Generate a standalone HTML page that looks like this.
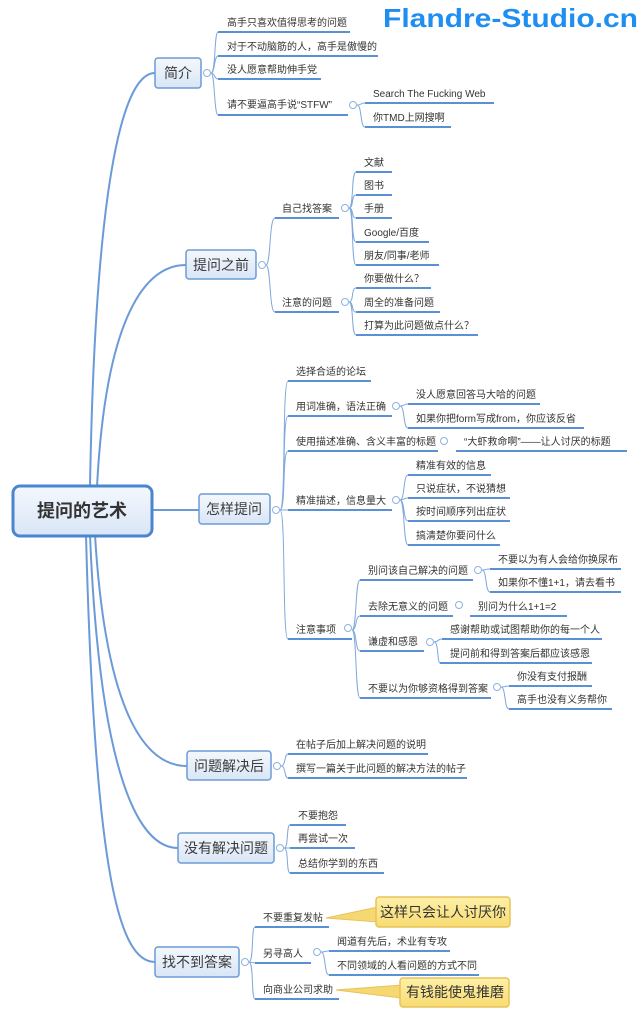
<!DOCTYPE html>
<html><head><meta charset="utf-8">
<style>
html,body{margin:0;padding:0;background:#fff;}
svg{display:block;}
text{font-family:"Liberation Sans","Noto Sans CJK SC",sans-serif;fill:#333;}
.l{font-size:10px;}
.b{font-size:14px;text-anchor:middle;fill:#3a3a3a;}
.u{stroke:#5b8fd6;stroke-width:2;fill:none;}
.c{stroke:#7fa8dc;stroke-width:1;fill:none;}
.t{stroke:#6b9ad8;stroke-width:2;fill:none;}
.box{fill:url(#g);stroke:#6c9bd6;stroke-width:1.5;}
.o{fill:#fff;stroke:#8fb2e0;stroke-width:1;}
</style></head><body>
<svg width="640" height="1020" viewBox="0 0 640 1020" xmlns="http://www.w3.org/2000/svg">
<defs>
<linearGradient id="g" x1="0" y1="0" x2="0" y2="1"><stop offset="0" stop-color="#f4f8fd"/><stop offset="1" stop-color="#d9e6f6"/></linearGradient>
<linearGradient id="y" x1="0" y1="0" x2="0" y2="1"><stop offset="0" stop-color="#fdf0a8"/><stop offset="1" stop-color="#f8dc72"/></linearGradient>
</defs>

<text x="383" y="27" style="font-size:26px;font-weight:bold;fill:#1e8ef0" textLength="255" lengthAdjust="spacingAndGlyphs">Flandre-Studio.cn</text>

<path class="t" d="M90 487 C95 200,120 73,155 73"/>
<path class="t" d="M97 487 C105 330,140 265,186 265"/>
<path class="t" d="M152 510 L199 510"/>
<path class="t" d="M95 535 C105 700,140 766,187 766"/>
<path class="t" d="M90 535 C100 780,140 848,178 848"/>
<path class="t" d="M86 535 C95 880,120 962,155 962"/>

<rect x="13" y="486" width="139" height="50" rx="7" fill="url(#g)" stroke="#4a86d0" stroke-width="3"/>
<text x="82" y="517" style="font-size:18px;font-weight:bold;text-anchor:middle;fill:#333">提问的艺术</text>

<rect class="box" x="155" y="58" width="46" height="30" rx="3"/><text class="b" x="178" y="78">简介</text>
<circle class="o" cx="207" cy="73" r="3.5"/>
<path class="c" d="M211 73 C216 73,214 32,218 32 M211 73 C215 73,214 56,218 56 M211 73 C215 73,214 79,218 79 M211 73 C215 73,214 115,218 115"/>
<line class="u" x1="218" y1="32" x2="350" y2="32"/><text class="l" x="227" y="26">高手只喜欢值得思考的问题</text>
<line class="u" x1="218" y1="56" x2="378" y2="56"/><text class="l" x="227" y="50">对于不动脑筋的人，高手是傲慢的</text>
<line class="u" x1="218" y1="79" x2="321" y2="79"/><text class="l" x="227" y="73">没人愿意帮助伸手党</text>
<line class="u" x1="218" y1="115" x2="348" y2="115"/><text class="l" x="227" y="108">请不要逼高手说“STFW”</text>
<circle class="o" cx="353" cy="105" r="3.5"/>
<path class="c" d="M357 105 C362 105,360 103,365 103 M357 105 C362 105,360 127,365 127"/>
<line class="u" x1="365" y1="103" x2="494" y2="103"/><text class="l" x="373" y="97">Search The Fucking Web</text>
<line class="u" x1="365" y1="127" x2="451" y2="127"/><text class="l" x="373" y="121">你TMD上网搜啊</text>

<rect class="box" x="186" y="250" width="70" height="29" rx="3"/><text class="b" x="221" y="270">提问之前</text>
<circle class="o" cx="262" cy="265" r="3.5"/>
<path class="c" d="M266 265 C271 265,269 218,275 218 M266 265 C271 265,269 312,275 312"/>
<line class="u" x1="275" y1="218" x2="339" y2="218"/><text class="l" x="282" y="212">自己找答案</text>
<circle class="o" cx="345" cy="208" r="3.5"/>
<path class="c" d="M349 208 C354 208,351 172,356 172 M349 208 C354 208,351 195,356 195 M349 208 C354 208,351 218,356 218 M349 208 C354 208,351 242,356 242 M349 208 C354 208,351 265,356 265"/>
<line class="u" x1="356" y1="172" x2="392" y2="172"/><text class="l" x="364" y="166">文献</text>
<line class="u" x1="356" y1="195" x2="392" y2="195"/><text class="l" x="364" y="189">图书</text>
<line class="u" x1="356" y1="218" x2="392" y2="218"/><text class="l" x="364" y="212">手册</text>
<line class="u" x1="356" y1="242" x2="429" y2="242"/><text class="l" x="364" y="236">Google/百度</text>
<line class="u" x1="356" y1="265" x2="439" y2="265"/><text class="l" x="364" y="259">朋友/同事/老师</text>
<line class="u" x1="275" y1="312" x2="339" y2="312"/><text class="l" x="282" y="306">注意的问题</text>
<circle class="o" cx="345" cy="302" r="3.5"/>
<path class="c" d="M349 302 C354 302,351 288,356 288 M349 302 C354 302,351 312,356 312 M349 302 C354 302,351 335,356 335"/>
<line class="u" x1="356" y1="288" x2="431" y2="288"/><text class="l" x="364" y="282">你要做什么？</text>
<line class="u" x1="356" y1="312" x2="440" y2="312"/><text class="l" x="364" y="306">周全的准备问题</text>
<line class="u" x1="356" y1="335" x2="478" y2="335"/><text class="l" x="364" y="329">打算为此问题做点什么？</text>

<rect class="box" x="199" y="494" width="71" height="30" rx="3"/><text class="b" x="234" y="514">怎样提问</text>
<circle class="o" cx="276" cy="510" r="3.5"/>
<path class="c" d="M280 510 C286 510,282 381,288 381 M280 510 C286 510,282 416,288 416 M280 510 C286 510,282 451,288 451 M280 510 L288 510 M280 510 C286 510,282 639,288 639"/>
<line class="u" x1="288" y1="381" x2="371" y2="381"/><text class="l" x="296" y="375">选择合适的论坛</text>
<line class="u" x1="288" y1="416" x2="392" y2="416"/><text class="l" x="296" y="410">用词准确，语法正确</text>
<circle class="o" cx="396" cy="406" r="3.5"/>
<path class="c" d="M400 406 C405 406,403 404,408 404 M400 406 C405 406,403 428,408 428"/>
<line class="u" x1="408" y1="404" x2="540" y2="404"/><text class="l" x="416" y="398">没人愿意回答马大哈的问题</text>
<line class="u" x1="408" y1="428" x2="584" y2="428"/><text class="l" x="416" y="422">如果你把form写成from，你应该反省</text>
<line class="u" x1="288" y1="451" x2="438" y2="451"/><text class="l" x="296" y="445">使用描述准确、含义丰富的标题</text>
<circle class="o" cx="444" cy="441" r="3.5"/>
<line class="u" x1="456" y1="451" x2="627" y2="451"/><text class="l" x="464" y="445">“大虾救命啊”——让人讨厌的标题</text>
<line class="u" x1="288" y1="510" x2="392" y2="510"/><text class="l" x="296" y="504">精准描述，信息量大</text>
<circle class="o" cx="396" cy="500" r="3.5"/>
<path class="c" d="M400 500 C405 500,403 475,408 475 M400 500 C405 500,403 498,408 498 M400 500 C405 500,403 521,408 521 M400 500 C405 500,403 545,408 545"/>
<line class="u" x1="408" y1="475" x2="491" y2="475"/><text class="l" x="416" y="469">精准有效的信息</text>
<line class="u" x1="408" y1="498" x2="510" y2="498"/><text class="l" x="416" y="492">只说症状，不说猜想</text>
<line class="u" x1="408" y1="521" x2="510" y2="521"/><text class="l" x="416" y="515">按时间顺序列出症状</text>
<line class="u" x1="408" y1="545" x2="500" y2="545"/><text class="l" x="416" y="539">搞清楚你要问什么</text>
<line class="u" x1="288" y1="639" x2="352" y2="639"/><text class="l" x="296" y="633">注意事项</text>
<circle class="o" cx="348" cy="628" r="3.5"/>
<path class="c" d="M352 630 C357 630,355 580,360 580 M352 630 C357 630,355 616,360 616 M352 630 C357 630,355 651,360 651 M352 630 C357 630,355 698,360 698"/>
<line class="u" x1="360" y1="580" x2="473" y2="580"/><text class="l" x="368" y="574">别问该自己解决的问题</text>
<circle class="o" cx="478" cy="570" r="3.5"/>
<path class="c" d="M482 570 C487 570,485 569,490 569 M482 570 C487 570,485 592,490 592"/>
<line class="u" x1="490" y1="569" x2="621" y2="569"/><text class="l" x="498" y="563">不要以为有人会给你换尿布</text>
<line class="u" x1="490" y1="592" x2="621" y2="592"/><text class="l" x="498" y="586">如果你不懂1+1，请去看书</text>
<line class="u" x1="360" y1="616" x2="453" y2="616"/><text class="l" x="368" y="610">去除无意义的问题</text>
<circle class="o" cx="459" cy="605" r="3.5"/>
<line class="u" x1="470" y1="616" x2="567" y2="616"/><text class="l" x="478" y="610">别问为什么1+1=2</text>
<line class="u" x1="360" y1="651" x2="424" y2="651"/><text class="l" x="368" y="645">谦虚和感恩</text>
<circle class="o" cx="430" cy="642" r="3.5"/>
<path class="c" d="M434 642 C439 642,437 639,442 639 M434 642 C439 642,437 663,440 663"/>
<line class="u" x1="442" y1="639" x2="602" y2="639"/><text class="l" x="450" y="633">感谢帮助或试图帮助你的每一个人</text>
<line class="u" x1="440" y1="663" x2="592" y2="663"/><text class="l" x="450" y="657">提问前和得到答案后都应该感恩</text>
<line class="u" x1="360" y1="698" x2="491" y2="698"/><text class="l" x="368" y="692">不要以为你够资格得到答案</text>
<circle class="o" cx="497" cy="687" r="3.5"/>
<path class="c" d="M501 687 C506 687,504 686,509 686 M501 687 C506 687,504 709,509 709"/>
<line class="u" x1="509" y1="686" x2="592" y2="686"/><text class="l" x="517" y="680">你没有支付报酬</text>
<line class="u" x1="509" y1="709" x2="612" y2="709"/><text class="l" x="517" y="703">高手也没有义务帮你</text>

<rect class="box" x="187" y="751" width="84" height="29" rx="3"/><text class="b" x="229" y="771">问题解决后</text>
<circle class="o" cx="277" cy="766" r="3.5"/>
<path class="c" d="M281 766 C286 766,284 754,288 754 M281 766 C286 766,284 778,288 778"/>
<line class="u" x1="288" y1="754" x2="428" y2="754"/><text class="l" x="296" y="748">在帖子后加上解决问题的说明</text>
<line class="u" x1="288" y1="778" x2="467" y2="778"/><text class="l" x="296" y="772">撰写一篇关于此问题的解决方法的帖子</text>

<rect class="box" x="178" y="833" width="96" height="30" rx="3"/><text class="b" x="226" y="853">没有解决问题</text>
<circle class="o" cx="280" cy="848" r="3.5"/>
<path class="c" d="M284 848 C289 848,286 825,290 825 M284 848 L290 848 M284 848 C289 848,286 873,290 873"/>
<line class="u" x1="290" y1="825" x2="346" y2="825"/><text class="l" x="298" y="819">不要抱怨</text>
<line class="u" x1="290" y1="848" x2="355" y2="848"/><text class="l" x="298" y="842">再尝试一次</text>
<line class="u" x1="290" y1="873" x2="384" y2="873"/><text class="l" x="298" y="867">总结你学到的东西</text>

<rect class="box" x="155" y="947" width="84" height="30" rx="3"/><text class="b" x="197" y="967">找不到答案</text>
<circle class="o" cx="245" cy="962" r="3.5"/>
<path class="c" d="M249 962 C254 962,251 927,255 927 M249 962 L255 963 M249 962 C254 962,251 999,255 999"/>
<line class="u" x1="255" y1="927" x2="329" y2="927"/><text class="l" x="263" y="921">不要重复发帖</text>
<polygon points="326,918 378,907 378,922" fill="#f6d872" stroke="#e8c25a" stroke-width="1"/>
<rect x="376" y="897" width="134" height="30" rx="3" fill="url(#y)" stroke="#e8c25a" stroke-width="1.5"/>
<text x="443" y="917" style="font-size:14px;text-anchor:middle;fill:#333">这样只会让人讨厌你</text>
<line class="u" x1="255" y1="963" x2="311" y2="963"/><text class="l" x="263" y="957">另寻高人</text>
<circle class="o" cx="317" cy="952" r="3.5"/>
<path class="c" d="M321 952 C326 952,324 951,329 951 M321 952 C326 952,324 975,329 975"/>
<line class="u" x1="329" y1="951" x2="450" y2="951"/><text class="l" x="337" y="945">闻道有先后，术业有专攻</text>
<line class="u" x1="329" y1="975" x2="479" y2="975"/><text class="l" x="337" y="969">不同领域的人看问题的方式不同</text>
<line class="u" x1="255" y1="999" x2="339" y2="999"/><text class="l" x="263" y="993">向商业公司求助</text>
<polygon points="336,990 402,985 402,998" fill="#f6d872" stroke="#e8c25a" stroke-width="1"/>
<rect x="400" y="978" width="109" height="29" rx="3" fill="url(#y)" stroke="#e8c25a" stroke-width="1.5"/>
<text x="455" y="997" style="font-size:14px;text-anchor:middle;fill:#333">有钱能使鬼推磨</text>
</svg>
</body></html>
